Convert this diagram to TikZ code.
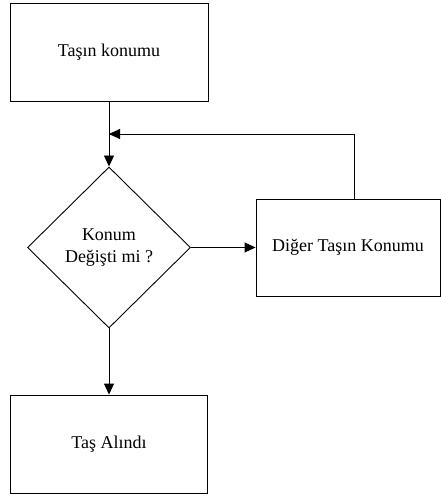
\documentclass[tikz,border=0pt]{standalone}
\usepackage{fontspec}
\setmainfont{Liberation Serif}
\usetikzlibrary{shapes.geometric,arrows.meta}
\begin{document}
\begin{tikzpicture}[x=1pt,y=-1pt,
  every node/.style={font=\fontsize{18}{21.5}\selectfont},
  boxnode/.style={draw,line width=0.9pt,rectangle,inner sep=0pt},
  decnode/.style={draw,line width=0.9pt,diamond,inner sep=0pt,align=center},
  conn/.style={line width=0.9pt},
  arr/.style={conn,-{Triangle[length=11pt,width=10pt]}}]
\useasboundingbox (0,0) rectangle (441,495);
\node[boxnode,minimum width=198pt,minimum height=98pt] (top) at (109,52) {Taşın konumu};
\node[decnode,minimum width=163pt,minimum height=161pt] (dec) at (109,247.5) {Konum\\Değişti mi ?};
\node[boxnode,minimum width=184pt,minimum height=97pt] (rbox) at (348,247.5) {Diğer Taşın Konumu};
\node[boxnode,minimum width=197pt,minimum height=98pt] (bot) at (109,444) {Taş Alındı};
\coordinate (fb) at (109,134);
\coordinate (fbr) at (354,134);
\draw[arr] (top) -- (dec);
\draw[conn] (fbr |- rbox.north) -- (fbr);
\draw[arr] (fbr) -- (fb);
\draw[arr] (dec) -- (rbox);
\draw[arr] (dec) -- (bot);
\end{tikzpicture}
\end{document}
